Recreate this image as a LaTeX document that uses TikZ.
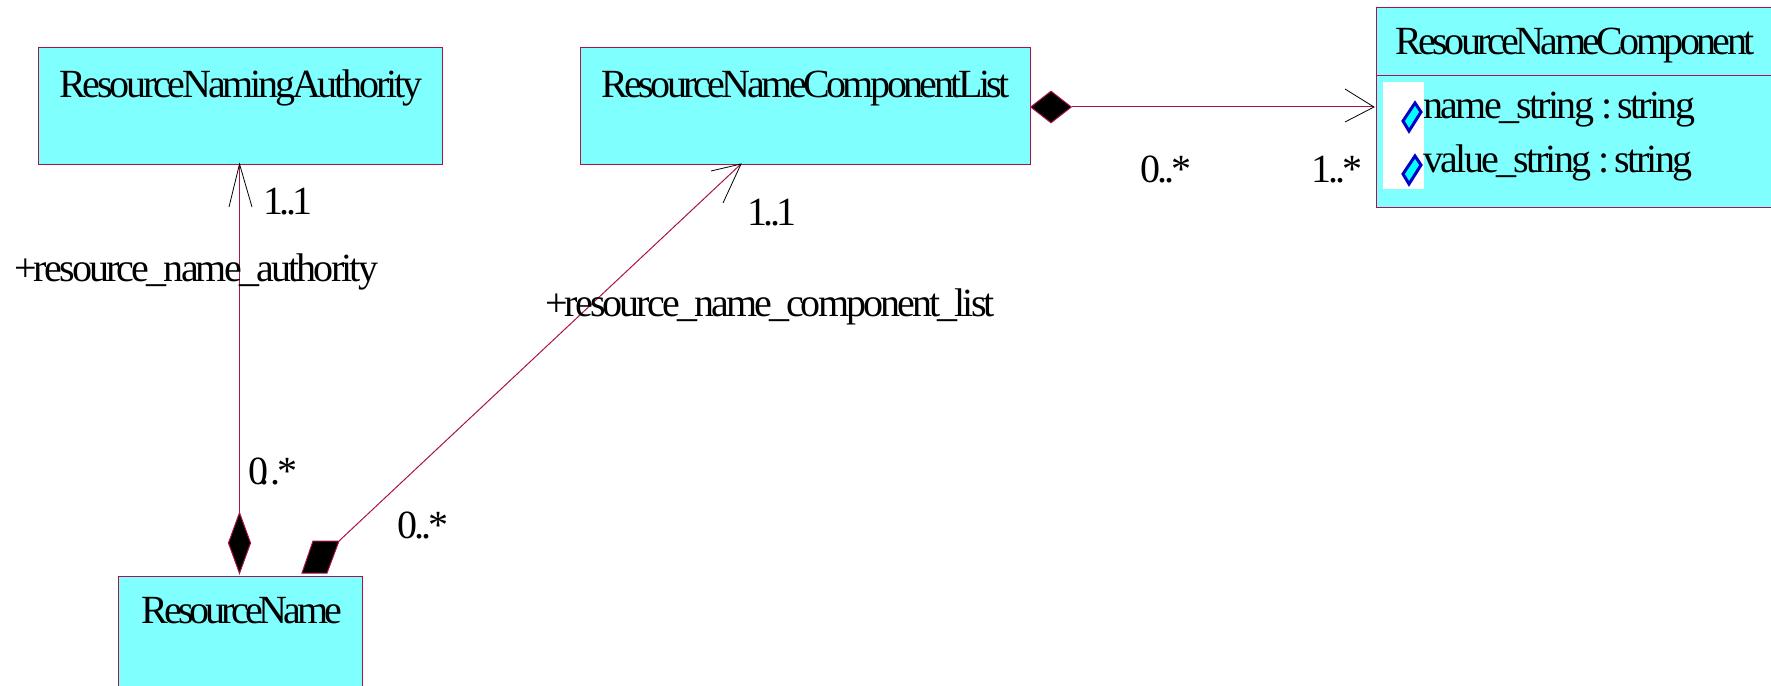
\documentclass[tikz,border=0pt]{standalone}
\usepackage{fontspec}
\setmainfont{Liberation Serif}[LetterSpace=-7.5]
\usetikzlibrary{shapes.geometric}
\definecolor{umlline}{HTML}{A8124F}
\definecolor{umlfill}{HTML}{80FFFF}
\definecolor{iconblue}{HTML}{0000C8}
\definecolor{iconcyan}{HTML}{00FFFF}
\tikzset{
  classbox/.style={draw=umlline,fill=umlfill,line width=1bp,rectangle,inner sep=0pt,anchor=north west,font=\fontsize{40bp}{40bp}\selectfont},
  lbl/.style={inner sep=0pt,anchor=base west,font=\fontsize{40bp}{40bp}\selectfont},
  assoc/.style={draw=umlline,line width=1bp},
  barb/.style={draw=black,line width=.8bp},
  comp/.style={draw=umlline,fill=black,line width=1bp},
  compd/.style={comp,diamond,inner sep=0pt},
  icon/.style={draw=iconblue,fill=iconcyan,line width=3bp,line join=miter},
}
\begin{document}
\begin{tikzpicture}[x=1bp,y=-1bp]
\useasboundingbox (0,0) rectangle (1771,686);
\clip (0,0) rectangle (1771,686);
% classes
\node[classbox,minimum width=404bp,minimum height=117bp,text height=50bp,text depth=67bp] (rna) at (38,47) {\addfontfeature{LetterSpace=-8}ResourceNamingAuthority};
\node[classbox,minimum width=450bp,minimum height=117bp,text height=50bp,text depth=67bp] (rncl) at (580,47) {\addfontfeature{LetterSpace=-8.8}ResourceNameComponentList};
\node[classbox,minimum width=244bp,minimum height=140bp,text height=47bp,text depth=93bp] (rn) at (118,575.5) {\addfontfeature{LetterSpace=-9.8}\kern3bp ResourceName};
\node[classbox,minimum width=397bp,minimum height=67.5bp,text height=46.5bp,text depth=21bp] (rnch) at (1376,7.5) {\addfontfeature{LetterSpace=-9}ResourceNameComponent};
\node[classbox,minimum width=397bp,minimum height=132bp] (rncb) at (1376,75) {};
% attribute icon strip
\fill[white] (1383,82) rectangle (1424,189);
\node[lbl] (attr1) at (1423,118.5) {\addfontfeature{LetterSpace=-6.7}name\_string :\hspace{-5bp} string};
\node[lbl] (attr2) at (1423,172.5) {\addfontfeature{LetterSpace=-6.7}value\_string :\hspace{-5bp} string};
\draw[icon] (1415,103) -- (1421,112) -- (1409,131) -- (1403,121) -- cycle;
\draw[icon] (1415,156) -- (1421,165) -- (1409,184) -- (1403,174) -- cycle;
% connector ends
\coordinate (t1) at (239.5,164);
\coordinate (t1a) at (229,207);
\coordinate (t1b) at (252,207);
\coordinate (t2) at (741,164);
\coordinate (t2a) at (711,171);
\coordinate (t2b) at (723,203);
\coordinate (t3) at (1374,107);
\coordinate (t3a) at (1345,89);
\coordinate (t3b) at (1345,122);
\coordinate (pa) at (313,541);
\coordinate (pb) at (339,541);
\coordinate (pc) at (327,573);
\coordinate (pd) at (302,573);
% composition ends
\node[compd,minimum width=22.5bp,minimum height=61bp] (d1) at (239.5,543) {};
\node[compd,minimum width=41bp,minimum height=32bp] (d3) at (1051,107) {};
\draw[comp] (pa) -- (pb) -- (pc) -- (pd) -- cycle;
% connectors
\draw[assoc] (t1) -- (d1.north);
\draw[assoc] (t2) -- (pb);
\draw[assoc] (d3.east) -- (t3);
\draw[barb] (t1a) -- (t1) -- (t1b);
\draw[barb] (t2a) -- (t2) -- (t2b);
\draw[barb] (t3a) -- (t3) -- (t3b);
% labels
\node[lbl] (m1) at (263,214) {\addfontfeature{LetterSpace=-9}1..1};
\node[lbl] (r1) at (14,281) {\addfontfeature{LetterSpace=-7.1}+resource\_name\_authority};
\node[lbl] (m2) at (747,225) {\addfontfeature{LetterSpace=-9}1..1};
\node[lbl] (r2) at (545,316) {\addfontfeature{LetterSpace=-7.3}+resource\_name\_component\_list};
\node[lbl] (m3) at (248,484) {0\kern-9bp.\kern1bp.*};
\node[lbl] (m4) at (397,538) {0..*};
\node[lbl] (m5) at (1140,182) {0..*};
\node[lbl] (m6) at (1311,182) {1..*};
\end{tikzpicture}
\end{document}
